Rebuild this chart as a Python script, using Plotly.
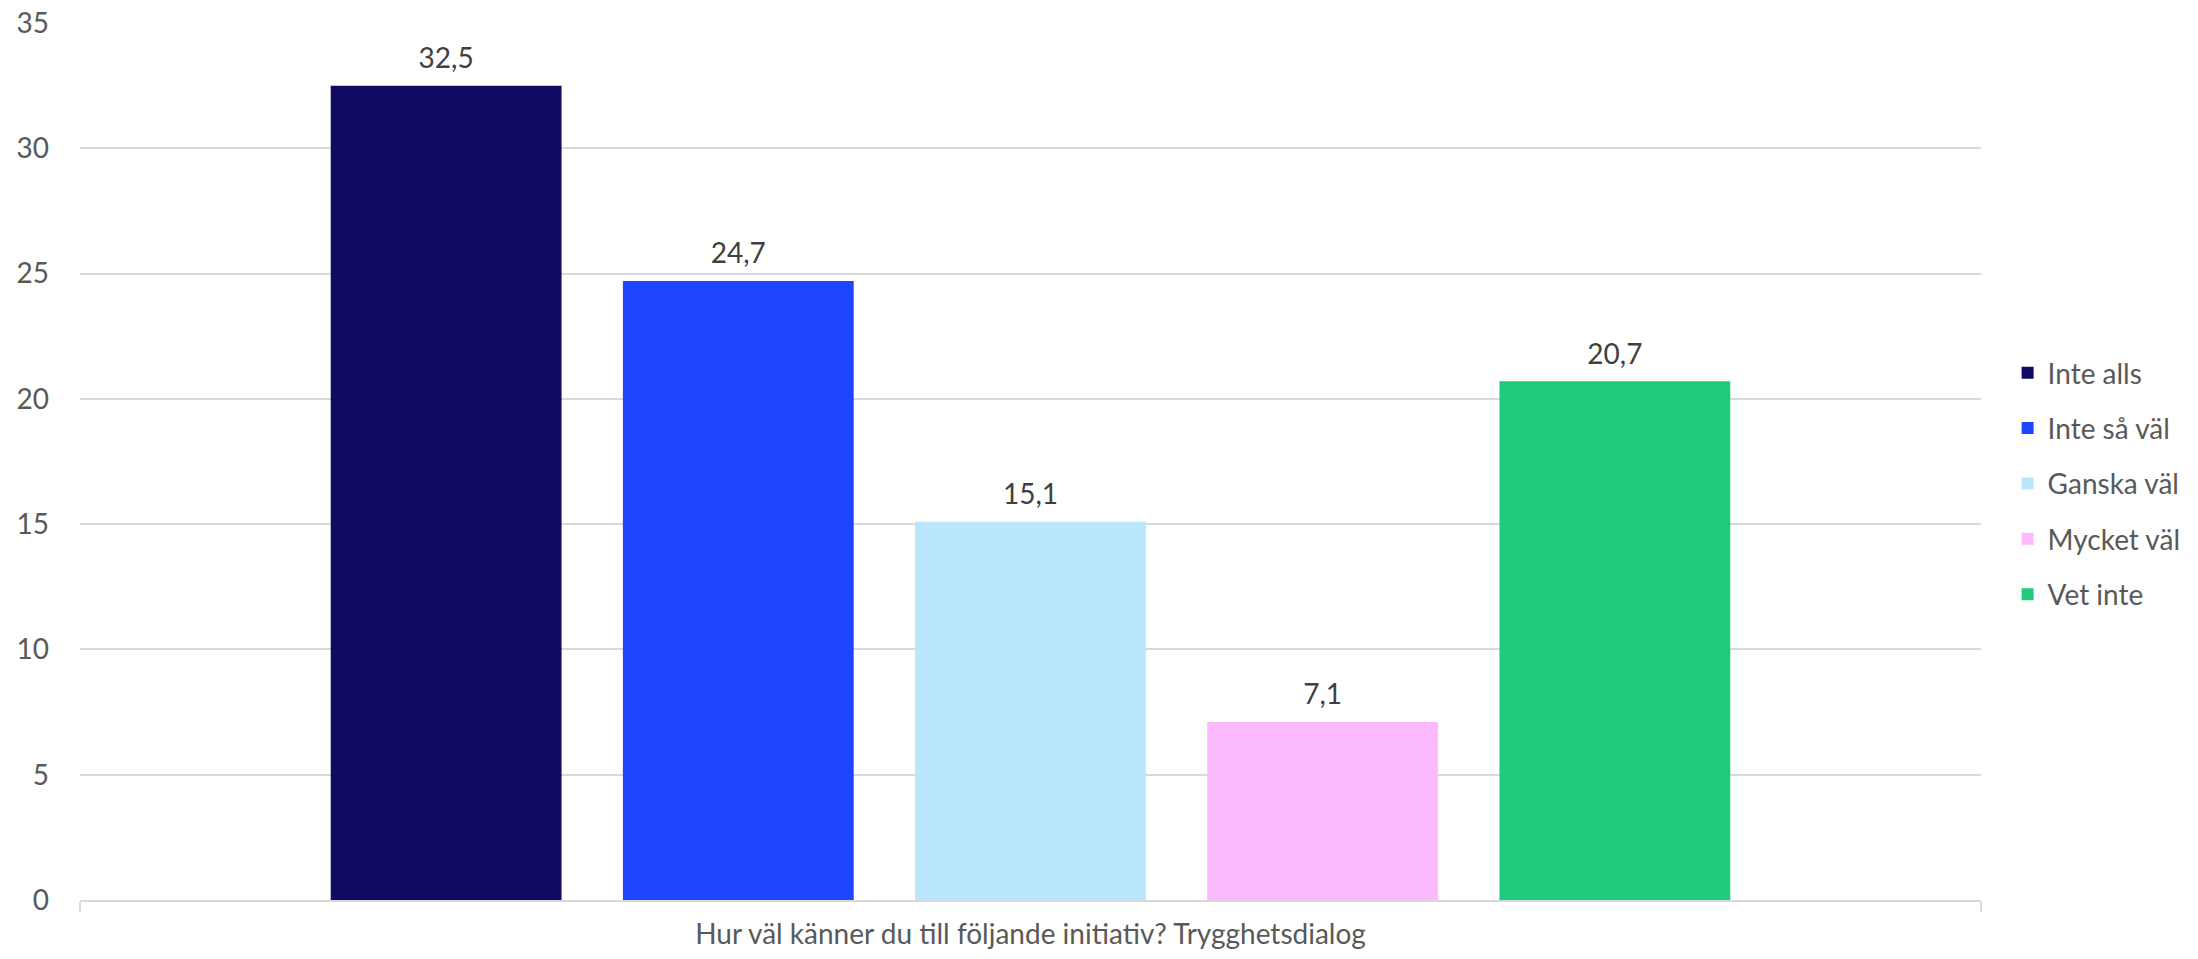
import plotly.graph_objects as go

category = ["Hur väl känner du till följande initiativ? Trygghetsdialog"]
series_names = ["Inte alls", "Inte så väl", "Ganska väl", "Mycket väl", "Vet inte"]
series_values = [32.5, 24.7, 15.1, 7.1, 20.7]
series_colors = ["#100A62", "#1F45FF", "#B9E6FD", "#FDB9FD", "#21C97A"]
y_ticks = [0, 5, 10, 15, 20, 25, 30, 35]

FONT = "Lato, Carlito, Calibri, sans-serif"
LABEL_PAD = 0.35  # extra gap (in axis units) between bar top and its value label

fig = go.Figure()
for i, (name, val, col) in enumerate(zip(series_names, series_values, series_colors)):
    fig.add_trace(go.Bar(
        x=category, y=[val], name=name, marker=dict(color=col, line=dict(width=0)),
        offsetgroup=str(i), legendgroup=f"g{i}", hoverinfo="skip",
    ))
for i, val in enumerate(series_values):
    fig.add_trace(go.Bar(
        x=category, y=[LABEL_PAD], base=[val], offsetgroup=str(i),
        marker=dict(color="rgba(0,0,0,0)", line=dict(width=0)),
        text=[f"{val:.1f}".replace(".", ",")], texttemplate="%{text}",
        textposition="outside", cliponaxis=False,
        textfont=dict(family=FONT, size=28, color="#404040"),
        showlegend=False, hoverinfo="skip",
    ))

fig.update_layout(
    width=2198, height=959,
    margin=dict(l=80, r=210, t=23, b=59, pad=0),
    paper_bgcolor="white", plot_bgcolor="white",
    separators=", ",
    barmode="group", bargap=0.2315, bargroupgap=0.21,
    font=dict(family=FONT, size=28, color="#595959"),
    showlegend=True,
    legend=dict(x=1.014, xanchor="left", y=0.475, yanchor="middle",
                font=dict(family=FONT, size=28, color="#595959"),
                tracegroupgap=16, bgcolor="rgba(0,0,0,0)"),
    yaxis=dict(range=[0, 35], tickvals=y_ticks, showgrid=True, gridcolor="#D9D9D9",
               gridwidth=2, zeroline=False, showline=False, ticks="", automargin=False,
               ticklabelstandoff=30, tickfont=dict(family=FONT, size=28, color="#595959")),
    xaxis=dict(showline=True, linecolor="#D9D9D9", linewidth=2, ticks="outside",
               tickson="boundaries", ticklen=10, tickcolor="#D9D9D9", tickwidth=2,
               automargin=False,
               ticklabelstandoff=8, tickfont=dict(family=FONT, size=28, color="#595959")),
)

fig.write_html("out.html", config={"displayModeBar": False},
               post_script="document.body.style.margin='0';")
